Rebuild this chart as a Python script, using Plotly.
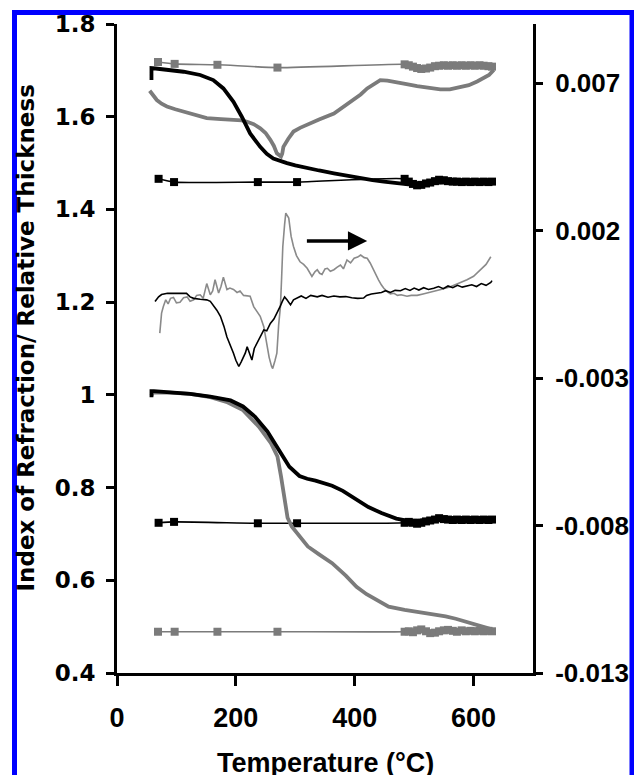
import plotly.graph_objects as go

# ---------------- data ----------------
# upper group: index of refraction (left axis)
ri_black_T = [58, 58, 65, 84, 112, 140, 162, 179, 196, 210, 224, 241, 252, 263, 275, 286, 300, 320, 340, 365,
              390, 410, 430, 449, 465, 477, 490, 505, 533, 560, 589, 610, 634]
ri_black = [1.679, 1.705, 1.704, 1.702, 1.697, 1.690, 1.679, 1.661, 1.632, 1.600, 1.564, 1.535, 1.520, 1.510, 1.504,
            1.500, 1.495, 1.489, 1.484, 1.478, 1.472, 1.467, 1.463, 1.460, 1.457, 1.455, 1.454, 1.455, 1.458, 1.459,
            1.460, 1.460, 1.460]

ri_gray_T = [55, 60, 67, 75, 84, 98, 112, 130, 151, 175, 196, 210, 219, 230, 241, 250, 258, 264, 269, 273,
             276, 278, 280, 288, 297, 308, 320, 340, 365, 380, 398, 410, 421, 432, 443, 455, 466, 485, 505, 525,
             544, 560, 578, 592, 606, 616, 626, 634]
ri_gray = [1.656, 1.648, 1.636, 1.628, 1.622, 1.616, 1.611, 1.604, 1.597, 1.595, 1.594, 1.592, 1.589, 1.584, 1.575,
           1.565, 1.550, 1.537, 1.521, 1.516, 1.514, 1.520, 1.535, 1.552, 1.568, 1.576, 1.582, 1.594, 1.607, 1.620,
           1.636, 1.648, 1.661, 1.671, 1.679, 1.678, 1.676, 1.671, 1.666, 1.662, 1.659, 1.659, 1.663, 1.668, 1.676,
           1.683, 1.690, 1.701]

sq_gray_T = [69, 97, 169, 270, 484, 491, 498, 505, 512, 520, 527, 535, 542, 550, 557, 565, 572, 580, 587, 595,
             602, 610, 617, 625, 631]
sq_black_T = [70, 96, 237, 303, 484, 491, 498, 505, 512, 520, 527, 535, 542, 550, 557, 565, 572, 580, 587, 595,
              602, 610, 617, 625, 631]

ri_sq_gray = [1.718, 1.714, 1.712, 1.706, 1.713, 1.711, 1.708, 1.705, 1.703, 1.704, 1.706, 1.709, 1.710, 1.711,
              1.710, 1.711, 1.710, 1.711, 1.710, 1.711, 1.710, 1.711, 1.710, 1.709, 1.708]
ri_sq_black = [1.466, 1.459, 1.459, 1.459, 1.466, 1.460, 1.455, 1.452, 1.453, 1.456, 1.458, 1.461, 1.464, 1.463,
               1.461, 1.460, 1.460, 1.459, 1.460, 1.459, 1.460, 1.459, 1.460, 1.459, 1.460]

# lower group: relative thickness (left axis)
th_black_T = [58, 58, 62, 89, 123, 157, 191, 212, 232, 253, 273, 290, 307, 320, 334, 348, 362, 380, 396, 410,
              423, 445, 470, 490, 510, 540, 570, 600, 631]
th_black = [0.995, 1.008, 1.008, 1.006, 1.002, 0.996, 0.988, 0.975, 0.953, 0.921, 0.881, 0.845, 0.825, 0.819,
            0.815, 0.810, 0.804, 0.793, 0.780, 0.768, 0.758, 0.745, 0.733, 0.728, 0.729, 0.733, 0.734, 0.734, 0.734]

th_gray_T = [58, 60, 89, 123, 157, 184, 212, 239, 259, 270, 276, 280, 283, 287, 294, 307, 321, 340, 362, 385,
             403, 420, 437, 457, 484, 505, 525, 553, 570, 587, 605, 621, 631]
th_gray = [0.998, 1.005, 1.005, 1.002, 0.995, 0.985, 0.967, 0.931, 0.896, 0.867, 0.824, 0.790, 0.766, 0.735,
           0.716, 0.695, 0.673, 0.656, 0.637, 0.610, 0.586, 0.570, 0.558, 0.543, 0.536, 0.532, 0.529, 0.522, 0.517,
           0.511, 0.504, 0.497, 0.494]

th_sq_black = [0.724, 0.726, 0.723, 0.723, 0.724, 0.726, 0.724, 0.722, 0.724, 0.727, 0.729, 0.731, 0.734, 0.732,
               0.731, 0.730, 0.731, 0.730, 0.731, 0.730, 0.731, 0.730, 0.731, 0.730, 0.731]
th_sq_gray = [0.489, 0.489, 0.489, 0.489, 0.489, 0.490, 0.488, 0.492, 0.494, 0.490, 0.486, 0.487, 0.490, 0.492,
              0.493, 0.491, 0.489, 0.492, 0.490, 0.491, 0.490, 0.491, 0.490, 0.491, 0.490]

# middle group: derivative curves (right axis)
d_black_T = [64, 70, 75, 85, 95, 105, 117, 123, 129, 140,
             151, 157, 162, 168, 174, 180, 185, 190, 196, 200,
             205, 209, 213, 216, 219, 223, 227, 231, 235, 241,
             247, 252, 258, 264, 269, 274, 278, 282, 286, 289,
             292, 297, 303, 310, 318, 326, 337, 345, 355, 365,
             375, 385, 395, 405, 415, 420, 428, 438, 445, 452,
             460, 468, 477, 485, 493, 500, 508, 516, 524, 533,
             541, 549, 557, 565, 573, 581, 589, 597, 605, 613,
             621, 629, 631]
d_black = [-0.00041, -0.00025, -0.00017, -0.00013, -0.00013, -0.00013, -0.00013, -0.00025, -0.00030, -0.00033,
           -0.00035, -0.00040, -0.00052, -0.00070, -0.00091, -0.00125, -0.00161, -0.00185, -0.00216, -0.00240,
           -0.00261, -0.00245, -0.00228, -0.00215, -0.00194, -0.00220, -0.00239, -0.00200, -0.00183, -0.00160,
           -0.00137, -0.00140, -0.00115, -0.00100, -0.00081, -0.00060, -0.00041, -0.00025, -0.00035, -0.00045,
           -0.00052, -0.00035, -0.00030, -0.00022, -0.00030, -0.00020, -0.00025, -0.00020, -0.00026, -0.00022,
           -0.00025, -0.00024, -0.00028, -0.00030, -0.00029, -0.00020, -0.00015, -0.00012, -0.00010, -0.00004,
           -0.00010, -0.00003, -0.00004, 0.00003, -0.00003, 0.00005, -0.00002, 0.00006, 0.00000, 0.00004,
           0.00010, 0.00003, 0.00012, 0.00006, 0.00014, 0.00008, 0.00012, 0.00016, 0.00010, 0.00020,
           0.00014, 0.00024, 0.00030]

d_gray_T = [72, 75, 78, 82, 86, 90, 95, 100, 106, 112,
            118, 123, 129, 134, 140, 145, 151, 157, 161, 165,
            171, 175, 179, 185, 190, 196, 202, 207, 213, 219,
            224, 230, 236, 241, 247, 252, 256, 260, 262, 266,
            269, 272, 275, 277, 279, 282, 284, 289, 293, 297,
            302, 308, 314, 320, 324, 328, 333, 337, 341, 345,
            350, 354, 359, 365, 370, 376, 381, 387, 393, 399,
            405, 410, 416, 421, 426, 430, 435, 440, 445, 449,
            455, 460, 466, 472, 478, 488, 495, 505, 515, 525,
            533, 545, 561, 575, 589, 600, 612, 621, 629]
d_gray = [-0.00148, -0.00080, -0.00058, -0.00035, -0.00049, -0.00030, -0.00027, -0.00045, -0.00043, -0.00028,
          -0.00025, -0.00040, -0.00035, -0.00020, -0.00018, -0.00030, 0.00020, -0.00018, -0.00005, 0.00033,
          -0.00012, 0.00010, 0.00042, 0.00000, 0.00005, 0.00000, -0.00010, -0.00005, -0.00020, -0.00023,
          -0.00023, -0.00058, -0.00075, -0.00091, -0.00126, -0.00183, -0.00230, -0.00260, -0.00268, -0.00240,
          -0.00216, -0.00120, -0.00058, 0.00040, 0.00146, 0.00220, 0.00259, 0.00242, 0.00180, 0.00146,
          0.00115, 0.00094, 0.00085, 0.00072, 0.00060, 0.00044, 0.00060, 0.00067, 0.00055, 0.00051,
          0.00070, 0.00072, 0.00062, 0.00067, 0.00075, 0.00083, 0.00070, 0.00100, 0.00090, 0.00106,
          0.00110, 0.00117, 0.00108, 0.00106, 0.00090, 0.00072, 0.00055, 0.00033, 0.00015, 0.00004,
          -0.00008, -0.00015, -0.00013, -0.00020, -0.00018, -0.00023, -0.00020, -0.00020, -0.00015, -0.00010,
          -0.00008, 0.00000, 0.00009, 0.00020, 0.00033, 0.00045, 0.00067, 0.00085, 0.00111]

x_ticks = [0, 200, 400, 600]
y_ticks = [0.4, 0.6, 0.8, 1.0, 1.2, 1.4, 1.6, 1.8]
y_ticktext = ["0.4", "0.6", "0.8", "1", "1.2", "1.4", "1.6", "1.8"]
y2_ticks = [-0.013, -0.008, -0.003, 0.002, 0.007]
y2_ticktext = ["-0.013", "-0.008", "-0.003", "0.002", "0.007"]

arrow_T = [317, 421]
arrow_y = 1.332

# ---------------- figure ----------------
W, H = 634, 775
L_PX, R_PX, T_PX, B_PX = 117, 533, 24, 673
FONT = "Liberation Sans, Arial, Helvetica, sans-serif"
FONT_WIDE = "DejaVu Sans, Verdana, sans-serif"
BLACK = "#000000"
GRAY = "#7b7b7b"
GRAY_THIN = "#8a8a8a"

fig = go.Figure()


def line(x, y, color, width, yaxis="y", shape="linear"):
    fig.add_trace(go.Scatter(x=x, y=y, mode="lines", yaxis=yaxis,
                             line=dict(color=color, width=width, shape=shape),
                             showlegend=False, hoverinfo="skip"))


def sq_line(x, y, color):
    fig.add_trace(go.Scatter(x=x, y=y, mode="lines+markers",
                             line=dict(color=color, width=1.6, shape="spline", smoothing=0.6),
                             marker=dict(symbol="square", size=8, color=color),
                             showlegend=False, hoverinfo="skip"))


# square-marker reference lines
sq_line(sq_gray_T, ri_sq_gray, GRAY)
sq_line(sq_black_T, ri_sq_black, BLACK)
sq_line(sq_black_T, th_sq_black, BLACK)
sq_line(sq_gray_T, th_sq_gray, GRAY)

# thick curves
line(ri_gray_T, ri_gray, GRAY, 3.8)
line(ri_black_T, ri_black, BLACK, 3.8)
line(th_gray_T, th_gray, GRAY, 3.8)
line(th_black_T, th_black, BLACK, 3.8)

# derivative curves on right axis
line(d_gray_T, d_gray, GRAY_THIN, 1.6, yaxis="y2")
line(d_black_T, d_black, BLACK, 1.6, yaxis="y2")

tick_font_left = dict(family=FONT_WIDE, size=23, color=BLACK, weight="bold")
tick_font_x = dict(family=FONT, size=27, color=BLACK, weight="bold")
tick_font_right = dict(family=FONT, size=26, color=BLACK, weight="bold")

fig.update_layout(
    width=W, height=H,
    margin=dict(l=L_PX, r=W - R_PX, t=T_PX, b=H - B_PX, autoexpand=False),
    paper_bgcolor="white", plot_bgcolor="white",
    showlegend=False,
    xaxis=dict(range=[0, 700], tickvals=x_ticks, ticks="outside", ticklen=10, tickwidth=3,
               tickcolor=BLACK, showline=True, linewidth=3, linecolor=BLACK,
               showgrid=False, zeroline=False, tickfont=tick_font_x, ticklabelstandoff=9),
    yaxis=dict(range=[0.4, 1.8], tickvals=y_ticks, ticktext=y_ticktext, ticks="outside", ticklen=8,
               tickwidth=3, tickcolor=BLACK, showline=True, linewidth=3, linecolor=BLACK,
               showgrid=False, zeroline=False, tickfont=tick_font_left, ticklabelstandoff=6),
    yaxis2=dict(range=[-0.013, 0.009], overlaying="y", side="right", tickvals=y2_ticks,
                ticktext=y2_ticktext, ticks="outside", ticklen=7, tickwidth=3, tickcolor=BLACK,
                showline=True, linewidth=3, linecolor=BLACK, showgrid=False, zeroline=False,
                tickfont=tick_font_right, ticklabelstandoff=7),
)

pw = R_PX - L_PX
ph = B_PX - T_PX


def px_x(p):
    return (p - L_PX) / pw


def px_y(p):
    return (B_PX - p) / ph


# arrow
fig.add_annotation(x=arrow_T[1], y=arrow_y, ax=arrow_T[0], ay=arrow_y, xref="x", yref="y",
                   axref="x", ayref="y", text="", showarrow=True, arrowhead=2, arrowsize=1.1,
                   arrowwidth=3.5, arrowcolor=BLACK)

# axis titles
fig.add_annotation(text="Temperature (°C)", xref="paper", yref="paper", x=0.5, y=px_y(762.5),
                   xanchor="center", yanchor="middle", showarrow=False,
                   font=dict(family=FONT, size=27, color=BLACK, weight="bold"))
fig.add_annotation(text="Index of Refraction/ Relative Thickness", xref="paper", yref="paper",
                   x=px_x(25.5), y=px_y(338), xanchor="center", yanchor="middle", textangle=-90,
                   showarrow=False, font=dict(family=FONT_WIDE, size=23, color=BLACK, weight="bold"))

# blue frame
fig.add_shape(type="rect", xref="paper", yref="paper", x0=px_x(14.5), x1=px_x(632), y0=px_y(790),
              y1=px_y(12.5), line=dict(color="#0000ff", width=5), fillcolor="rgba(0,0,0,0)", layer="above")

fig.write_html("out.html")
